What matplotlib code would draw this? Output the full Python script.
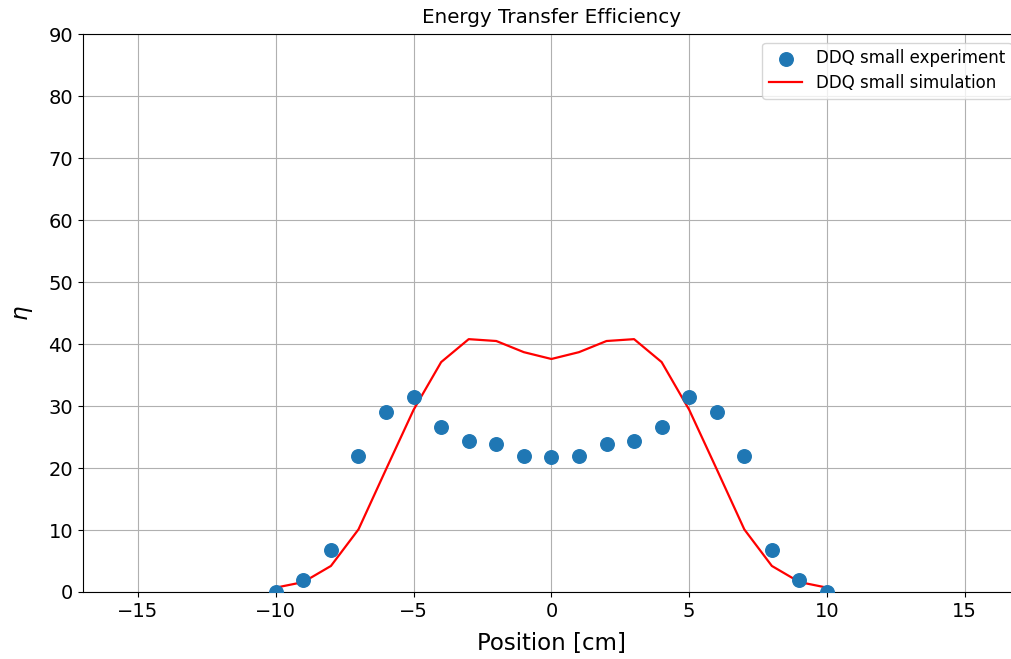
import matplotlib
matplotlib.use("Agg")
import matplotlib.pyplot as plt

positions = [-10, -9, -8, -7, -6, -5, -4, -3, -2, -1, 0, 1, 2, 3, 4, 5, 6, 7, 8, 9, 10]
experiment = [0.0, 2.0, 6.7, 22.0, 29.0, 31.5, 26.7, 24.3, 23.9, 22.0, 21.8,
              22.0, 23.9, 24.3, 26.7, 31.5, 29.0, 22.0, 6.7, 2.0, 0.0]
simulation = [0.7, 1.6, 4.2, 10.1, 19.8, 29.4, 37.1, 40.8, 40.5, 38.7, 37.6,
              38.7, 40.5, 40.8, 37.1, 29.4, 19.8, 10.1, 4.2, 1.6, 0.7]

fig = plt.figure(figsize=(10.11, 6.59), dpi=100)
ax = fig.add_axes([0.082, 0.1017, 0.9268, 0.8463])
ax.scatter(positions, experiment, s=95, color="#1f77b4", label="DDQ small experiment", zorder=3)
ax.plot(positions, simulation, color="red", lw=1.6, label="DDQ small simulation", zorder=2)
ax.set_xlim(-17.0, 17.0)
ax.set_ylim(0, 90)
ax.set_xticks([-15, -10, -5, 0, 5, 10, 15])
ax.set_yticks(range(0, 91, 10))
ax.tick_params(labelsize=14)
ax.grid(True)
ax.set_axisbelow(True)
ax.set_title("Energy Transfer Efficiency", fontsize=14.3, pad=8)
ax.set_xlabel("Position [cm]", fontsize=16.5, labelpad=8)
ax.set_ylabel(r"$\eta$", fontsize=16.5, labelpad=10)
ax.legend(loc="upper right", fontsize=12, labelspacing=0.4)
fig.savefig("out.png", dpi=100)
